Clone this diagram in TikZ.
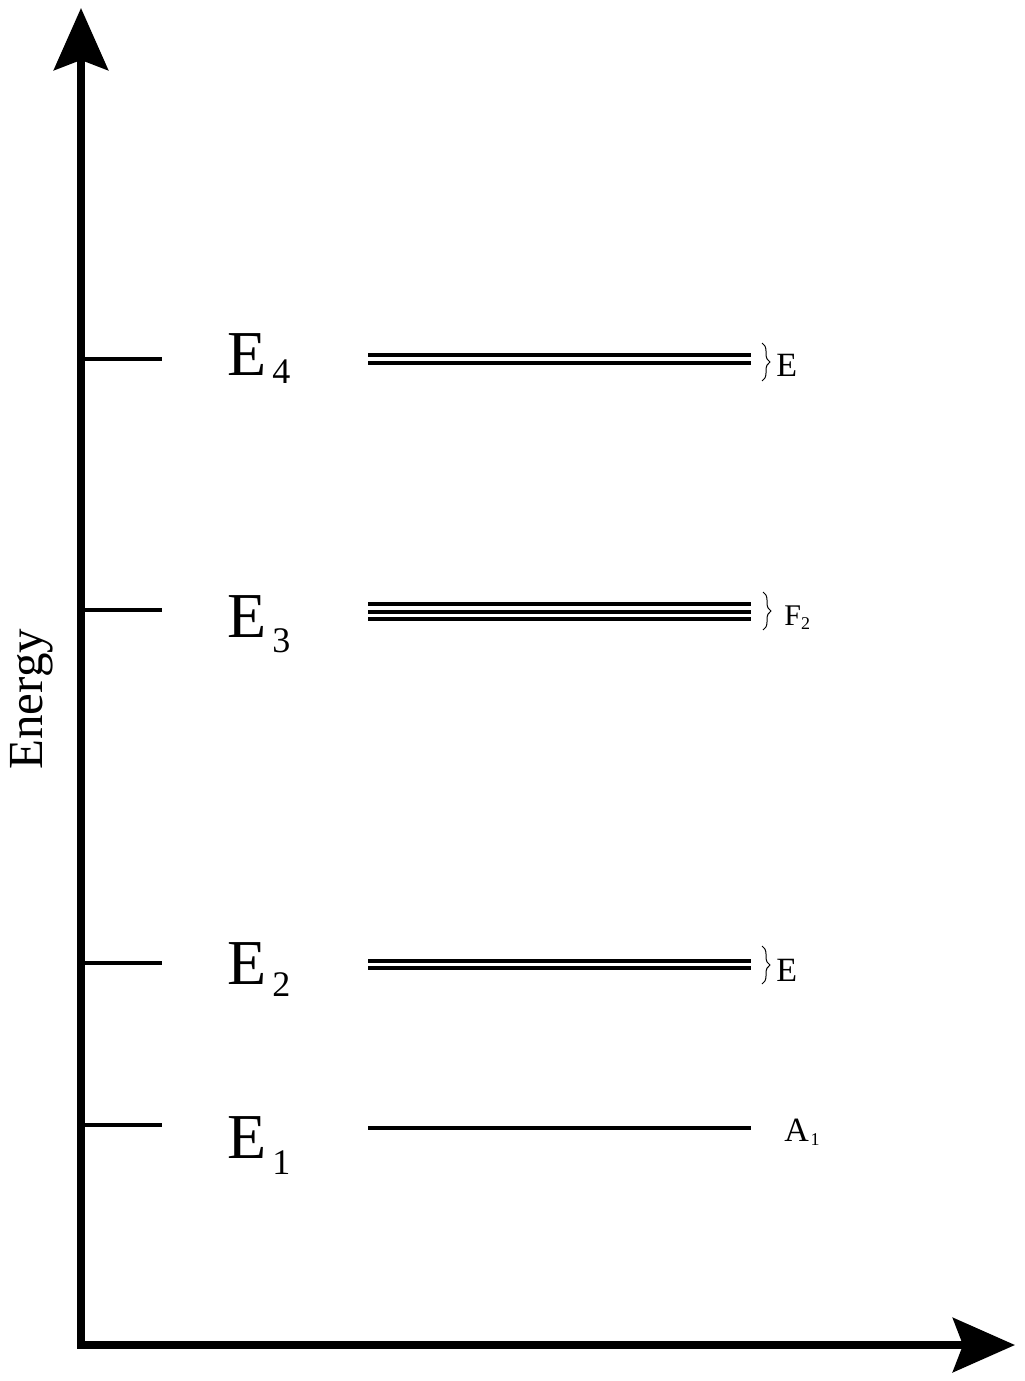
\documentclass[tikz,border=0pt]{standalone}
\usepackage{fontspec}
\setmainfont{Liberation Serif}
\usetikzlibrary{arrows.meta, decorations.pathreplacing}

\newcommand{\fsz}[1]{\fontsize{#1}{#1}\selectfont}

\begin{document}
\begin{tikzpicture}[x=0.5pt, y=-0.5pt]
\tikzstyle{every node}+=[inner sep=0pt]
\tikzstyle{energyaxis}=[line width=4pt, line join=miter,
  {Stealth[length=31pt,width=27pt,inset=5pt]}-{Stealth[length=31pt,width=27pt,inset=5pt]}]
\tikzstyle{tickmark}=[line width=1.6pt]
\tikzstyle{level}=[line width=2pt]
\tikzstyle{split}=[line width=0.5pt, decorate, decoration={brace, amplitude=4pt}]
\tikzstyle{bigE}=[anchor=base west, font=\fsz{32}]
\tikzstyle{irrep}=[anchor=base west, font=\fsz{17}]
\useasboundingbox (0,0) rectangle (1024,1381);
% axes
\coordinate (ytip) at (81,8);
\coordinate (origin) at (81,1345);
\coordinate (xtip) at (1015,1345);
\draw [energyaxis] (ytip) -- (origin) -- (xtip);
\node [rotate=90, anchor=base west, font=\fsz{24.5}] (energy) at (42,770) {Energy};
% ticks on the energy axis
\foreach \y in {359,610,963,1125}
  \draw [tickmark] (85,\y) -- (162,\y);
% energy labels
\node [bigE] (E4) at (227,375) {E\hspace{3pt}\raisebox{-4pt}{\fsz{18}4}};
\node [bigE] (E3) at (227,637) {E\hspace{3pt}\raisebox{-7.5pt}{\fsz{18}3}};
\node [bigE] (E2) at (227,984) {E\hspace{3pt}\raisebox{-6pt}{\fsz{18}2}};
\node [bigE] (E1) at (227,1158) {E\hspace{3pt}\raisebox{-8pt}{\fsz{18}1}};
% split levels
\foreach \y in {355,363}
  \draw [level] (368,\y) -- (751,\y);
\foreach \y in {604,611.5,619}
  \draw [level] (368,\y) -- (751,\y);
\foreach \y in {961,968}
  \draw [level] (368,\y) -- (751,\y);
\draw [level, line width=1.6pt] (368,1128) -- (751,1128);
% braces and symmetry labels
\draw [split] (762,343) -- (762,381);
\draw [split] (763,592) -- (763,630);
\draw [split] (762,946) -- (762,984);
\node [irrep] (symE4) at (776,376) {E};
\node [irrep, font=\fsz{15}] (symF2) at (784,625) {F\raisebox{-2pt}{\fsz{9}2}};
\node [irrep] (symE2) at (776,981) {E};
\node [irrep] (symA1) at (784,1141) {A\hspace{0.8pt}\raisebox{-2pt}{\fsz{9}1}};
\end{tikzpicture}
\end{document}
